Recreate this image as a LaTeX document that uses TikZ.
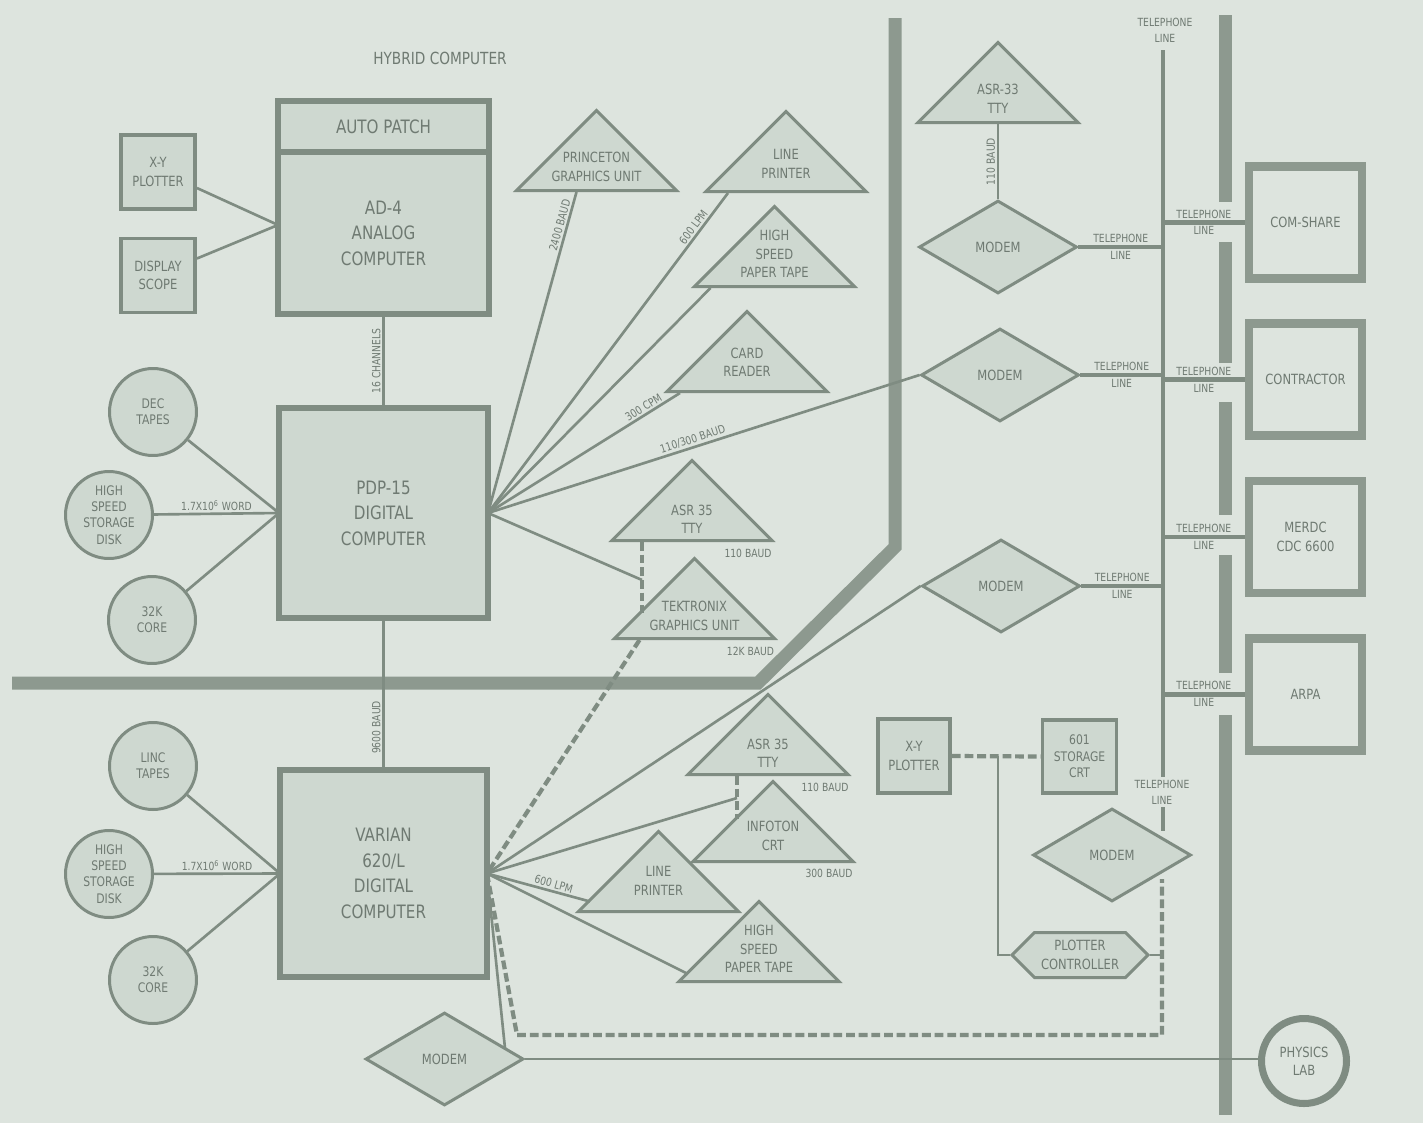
\documentclass[tikz,border=0pt]{standalone}
\usepackage{fontspec}
\setmainfont{DejaVu Sans}[FakeStretch=0.82]
\usepackage{tikz}
\usetikzlibrary{positioning,calc,shapes.geometric,shapes.symbols}

\definecolor{bgc}{HTML}{DDE4DE}
\definecolor{boxc}{HTML}{CED8D0}
\definecolor{linec}{HTML}{7F8C82}
\definecolor{barc}{HTML}{8D998F}
\definecolor{inkc}{HTML}{6F7A72}

\begin{document}
\begin{tikzpicture}[x=0.02cm,y=-0.02cm]
\tikzset{
  txt/.style={text=inkc,align=center,inner sep=1pt},
  big/.style={txt,font=\fontsize{10.5}{14.5}\selectfont},
  dev/.style={txt,font=\fontsize{8}{10.5}\selectfont},
  small/.style={txt,font=\fontsize{7.5}{9.3}\selectfont},
  tiny/.style={txt,font=\fontsize{6.4}{9}\selectfont},
  computer/.style={big,rectangle,draw=linec,fill=boxc,line width=3.4pt,outer sep=0pt},
  device/.style={dev,rectangle,draw=linec,fill=boxc,line width=2.2pt},
  storage/.style={small,circle,draw=linec,fill=boxc,line width=1.7pt,minimum size=1.74cm,inner sep=0.5pt},
  terminal/.style={isosceles triangle,isosceles triangle apex angle=90,shape border rotate=90,
    draw=linec,fill=boxc,line width=1.7pt,minimum width=1.6cm,minimum height=1.6cm,anchor=lower side},
  modem/.style={dev,diamond,draw=linec,fill=boxc,line width=1.7pt,minimum width=3.16cm,minimum height=1.86cm,inner sep=0pt},
  site/.style={dev,rectangle,draw=barc,fill=bgc,line width=5pt,minimum width=2.26cm,minimum height=2.24cm},
  wire/.style={draw=linec,line width=1.5pt},
  link/.style={draw=linec,line width=2.8pt},
  dashlink/.style={draw=linec,line width=2.4pt,dash pattern=on 5pt off 2.2pt},
  bar/.style={draw=barc,line width=7.4pt}
}
\path[use as bounding box,fill=bgc] (0,0) rectangle (1423,1123);

\draw[bar] (12,683) -- (758,683) -- (895,547) -- (895,18);
\draw[bar] (1225,15) -- (1225,202) (1225,242) -- (1225,363) (1225,402) -- (1225,515)
  (1225,555) -- (1225,673) (1225,715) -- (1225,1115);

\node[txt,font=\fontsize{9.5}{11}\selectfont] (hybrid) at (440,58) {HYBRID COMPUTER};

\node[computer,minimum width=4.22cm,minimum height=1.02cm] (autopatch) at (383.5,126.5) {AUTO PATCH};
\node[computer,minimum width=4.22cm,minimum height=3.24cm] (ad4) [below=0pt of autopatch] {AD-4\\ANALOG\\COMPUTER};
\node[device,minimum width=1.48cm,minimum height=1.48cm] (xyplot) at (158,172) {X-Y\\PLOTTER};
\node[device,minimum width=1.48cm,minimum height=1.48cm] (scope) at (158,275.5) {DISPLAY\\SCOPE};
\draw[wire] ($(xyplot.east)+(0,16)$) -- ($(ad4.west)+(0,-8)$);
\draw[wire] ($(scope.east)+(0,-17)$) -- ($(ad4.west)+(0,-8)$);

\node[computer,minimum width=4.18cm,minimum height=4.2cm] (pdp) at (383.5,513) {PDP-15\\DIGITAL\\COMPUTER};
\draw[wire] (ad4) -- (pdp) node[tiny,midway,rotate=90,anchor=south] (chan) {16 CHANNELS};
\node[storage] (dectape) at (153,412) {DEC\\TAPES};
\node[storage] (pdpdisk) at (109,515) {HIGH\\SPEED\\STORAGE\\DISK};
\node[storage] (pdpcore) at (152,620) {32K\\CORE};
\draw[wire] (dectape) -- (pdp.west);
\draw[wire] (pdpdisk) -- (pdp.west) node[tiny,midway,above] (word1) {1.7X10\textsuperscript{6} WORD};
\draw[wire] (pdpcore) -- (pdp.west);

\node[computer,minimum width=4.14cm,minimum height=4.14cm] (varian) at (383.5,873.5) {VARIAN\\620/L\\DIGITAL\\COMPUTER};
\draw[wire] (pdp) -- (varian) node[tiny,pos=.72,rotate=90,anchor=south] (b9600) {9600 BAUD};
\node[storage] (linctape) at (153,766) {LINC\\TAPES};
\node[storage] (vardisk) at (109,874) {HIGH\\SPEED\\STORAGE\\DISK};
\node[storage] (varcore) at (153,980) {32K\\CORE};
\draw[wire] (linctape) -- (varian.west);
\draw[wire] (vardisk) -- (varian.west) node[tiny,midway,above] (word2) {1.7X10\textsuperscript{6} WORD};
\draw[wire] (varcore) -- (varian.west);

\node[terminal] (pgu) at (596.5,192) {};
\node[dev] (pgu-t) at ($(pgu.lower side)+(0,-25)$) {PRINCETON\\GRAPHICS UNIT};
\node[terminal] (lp1) at (786,193) {};
\node[dev] (lp1-t) at ($(lp1.lower side)+(0,-29)$) {LINE\\PRINTER};
\node[terminal] (ppt1) at (774.5,288) {};
\node[dev] (ppt1-t) at ($(ppt1.lower side)+(0,-34)$) {HIGH\\SPEED\\PAPER TAPE};
\node[terminal] (card) at (747,393) {};
\node[dev] (card-t) at ($(card.lower side)+(0,-31)$) {CARD\\READER};
\node[terminal] (asr35a) at (692,542) {};
\node[dev] (asr35a-t) at ($(asr35a.lower side)+(0,-23)$) {ASR 35\\TTY};
\node[tiny] (baud-a) at ($(asr35a.lower side)+(56,11)$) {110 BAUD};
\node[terminal] (tek) at (694.5,640) {};
\node[dev] (tek-t) at ($(tek.lower side)+(0,-24)$) {TEKTRONIX\\GRAPHICS UNIT};
\node[tiny] (baud-t) at ($(tek.lower side)+(56,11)$) {12K BAUD};

\node[terminal] (asr33) at (998,124) {};
\node[dev] (asr33-t) at ($(asr33.lower side)+(0,-25)$) {ASR-33\\TTY};
\node[modem] (modem1) at (998,247) {MODEM};
\node[modem] (modem2) at (1000,375) {MODEM};
\node[modem] (modem3) at (1001,586) {MODEM};
\node[modem] (modem4) at (1112,855) {MODEM};
\draw[wire] (asr33.lower side) -- (modem1.north) node[tiny,midway,rotate=90,anchor=south] (baud33) {110 BAUD};

\coordinate (ttyjoin) at ($(asr35a.lower side)+(-50,38)$);
\draw[wire] (pdp.east) -- ($(pgu.lower side)+(-20,0)$) node[tiny,sloped,above,pos=.89] (b2400) {2400 BAUD};
\draw[wire] (pdp.east) -- ($(lp1.lower side)+(-58,0)$) node[tiny,sloped,above,pos=.88] (lpm1) {600 LPM};
\draw[wire] (pdp.east) -- ($(ppt1.lower side)+(-64,0)$);
\draw[wire] (pdp.east) -- ($(card.lower side)+(-67,0)$) node[tiny,sloped,above,pos=.83] (cpm) {300 CPM};
\draw[wire] (pdp.east) -- (modem2.west) node[tiny,sloped,above,pos=.48] (b300) {110/300 BAUD};
\draw[wire] (pdp.east) -- (ttyjoin);
\draw[dashlink] ($(asr35a.lower side)+(-50,0)$) -- ($(tek.lower side)+(-52.5,-27)$);
\draw[dashlink] ($(tek.lower side)+(-55,0)$) -- (varian.east);

\node[terminal] (asr35b) at (768,776) {};
\node[dev] (asr35b-t) at ($(asr35b.lower side)+(0,-23)$) {ASR 35\\TTY};
\node[tiny] (baud-b) at ($(asr35b.lower side)+(57,11)$) {110 BAUD};
\node[terminal] (infoton) at (773,863) {};
\node[dev] (infoton-t) at ($(infoton.lower side)+(0,-27)$) {INFOTON\\CRT};
\node[tiny] (baud-i) at ($(infoton.lower side)+(56,10)$) {300 BAUD};
\node[terminal] (lp2) at (658.5,913) {};
\node[dev] (lp2-t) at ($(lp2.lower side)+(0,-32)$) {LINE\\PRINTER};
\node[terminal] (ppt2) at (759,983) {};
\node[dev] (ppt2-t) at ($(ppt2.lower side)+(0,-34)$) {HIGH\\SPEED\\PAPER TAPE};

\coordinate (ttyjoin2) at ($(asr35b.lower side)+(-31,22)$);
\draw[wire] (varian.east) -- (modem3.west);
\draw[wire] (varian.east) -- (ttyjoin2);
\draw[dashlink] ($(asr35b.lower side)+(-31,0)$) -- ($(infoton.lower side)+(-36,-44)$);
\draw[wire] (varian.east) -- ($(lp2.lower side)+(-68.5,-11.5)$) node[tiny,sloped,above,pos=.63] (lpm2) {600 LPM};
\draw[wire] (varian.east) -- ($(ppt2.lower side)+(-71,-9)$);

\node[site] (comshare) at (1305.5,222.5) {COM-SHARE};
\node[site] (contractor) [below=0.73cm of comshare] {CONTRACTOR};
\node[site] (merdc) [below=0.73cm of contractor] {MERDC\\CDC 6600};
\node[site] (arpa) [below=0.73cm of merdc] {ARPA};

\coordinate (trunktop) at (1163,50);
\node[tiny] (tel-top) at (1165,30) {TELEPHONE\\LINE};
\draw[link] (trunktop) -- (trunktop |- modem4.north east);
\node[tiny,fill=bgc,inner sep=1.5pt] (tel-low) at (1162,792) {TELEPHONE\\LINE};
\draw[link] (modem1.east) -- (modem1.east -| trunktop) node[tiny,midway,above] {TELEPHONE} node[tiny,midway,below] {LINE};
\draw[link] (modem2.east) -- (modem2.east -| trunktop) node[tiny,midway,above] {TELEPHONE} node[tiny,midway,below] {LINE};
\draw[link] (modem3.east) -- (modem3.east -| trunktop) node[tiny,midway,above] {TELEPHONE} node[tiny,midway,below] {LINE};
\draw[link] (comshare.west -| trunktop) -- (comshare.west) node[tiny,midway,above] {TELEPHONE} node[tiny,midway,below] {LINE};
\draw[link] (contractor.west -| trunktop) -- (contractor.west) node[tiny,midway,above] {TELEPHONE} node[tiny,midway,below] {LINE};
\draw[link] (merdc.west -| trunktop) -- (merdc.west) node[tiny,midway,above] {TELEPHONE} node[tiny,midway,below] {LINE};
\draw[link] (arpa.west -| trunktop) -- (arpa.west) node[tiny,midway,above] {TELEPHONE} node[tiny,midway,below] {LINE};

\node[device,minimum width=1.44cm,minimum height=1.48cm] (xyplot2) at (914,756) {X-Y\\PLOTTER};
\node[device,small,minimum width=1.48cm,minimum height=1.46cm] (crt601) at (1079.5,756.5) {601\\STORAGE\\CRT};
\node[dev,signal,signal to=east and west,draw=linec,fill=boxc,line width=1.7pt,
  minimum width=2.72cm,minimum height=0.9cm,inner sep=0pt] (plotctl) at (1080,955) {PLOTTER\\CONTROLLER};
\draw[dashlink] (xyplot2.east) -- (crt601.west);
\coordinate (plottap) at (998,756);
\draw[wire] (plottap) |- (plotctl.west);

\node[modem] (modem5) at (444.5,1059) {MODEM};
\node[dev,circle,draw=linec,fill=bgc,line width=4pt,minimum size=1.7cm] (physics) at (1304,1061) {PHYSICS\\LAB};
\coordinate (loopsw) at (517,1035);
\coordinate (loopse) at (1162,1035);
\draw[dashlink] (varian.east) -- (loopsw) -- (loopse) -- (loopse |- modem4.south east);
\draw[wire] (plotctl.east) -- (plotctl.east -| loopse);
\draw[wire] (varian.east) -- ($(modem5.east)+(-20,-11)$);
\draw[wire] (modem5.east) -- (modem5.east -| physics.west);
\end{tikzpicture}
\end{document}
